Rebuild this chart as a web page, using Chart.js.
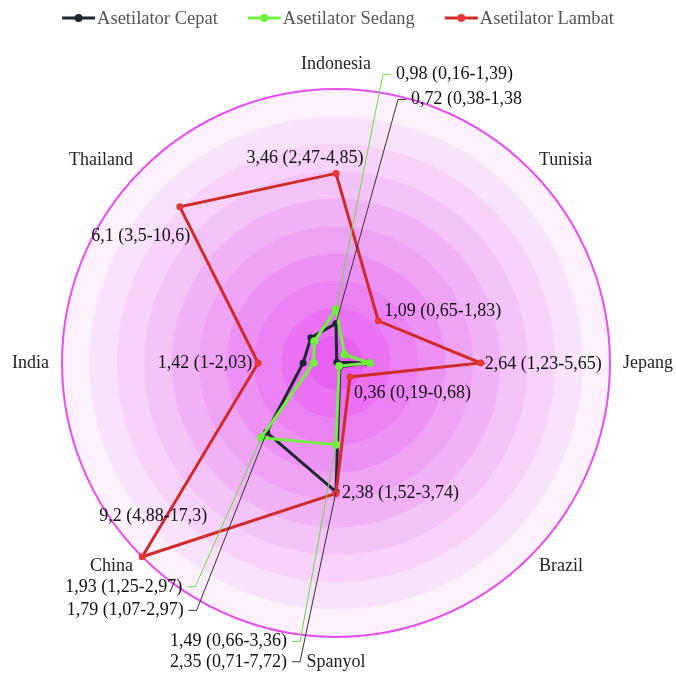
<!DOCTYPE html>
<html>
<head>
<meta charset="utf-8">
<script src="https://cdn.jsdelivr.net/npm/chart.js@4.4.0/dist/chart.umd.min.js"></script>
<style>
  html, body { margin: 0; padding: 0; background: #fff; }
  #wrap { width: 676px; height: 674px; }
</style>
</head>
<body>
<div id="wrap"><canvas id="radarChart"></canvas></div>
<script>
// Data
const countries = ["Indonesia", "Tunisia", "Jepang", "Brazil", "Spanyol", "China", "India", "Thailand"]
const seriesNames = ["Asetilator Cepat", "Asetilator Sedang", "Asetilator Lambat"]
const cepat = [0.72, 0.02, 0.58, 0.1, 2.35, 1.79, 0.6, 0.65]
const sedang = [0.98, 0.22, 0.61, 0.08, 1.49, 1.93, 0.41, 0.56]
// China and Thailand are drawn where the picture puts them (edge of the scale)
const lambat = [3.46, 1.09, 2.64, 0.36, 2.38, 5, 1.42, 4.03]
const ringValues = [0.5, 1, 1.5, 2, 2.5, 3, 3.5, 4, 4.5, 5]

// Annotation texts
const cepatNotes = ["0,72 (0,38-1,38", null, null, null, "2,35 (0,71-7,72)", "1,79 (1,07-2,97)", null, null]
const sedangNotes = ["0,98 (0,16-1,39)", null, null, null, "1,49 (0,66-3,36)", "1,93 (1,25-2,97)", null, null]
const lambatNotes = ["3,46 (2,47-4,85)", "1,09 (0,65-1,83)", "2,64 (1,23-5,65)", "0,36 (0,19-0,68)",
  "2,38 (1,52-3,74)", "9,2 (4,88-17,3)", "1,42 (1-2,03)", "6,1 (3,5-10,6)"]

// Placement of annotations (offsets from the point)
const cepatElbows = [[62, -224], null, null, null, [-36, 170], [-70, 178], null, null]
const sedangElbows = [[47, -235], null, null, null, [-36, 197], [-66, 149], null, null]
const lambatOffsets = [[-31, -15, "center"], [6, -9, "left"], [4, 1, "left"], [4, 16, "left"],
  [6, 0, "left"], [11, -40, "center"], [-6, 0, "right"], [-39, 29, "center"]]

// Styles
const colors = ["#1f2633", "#74ee44", "#cf2b2b"]
const pointColors = ["#1f2633", "#6ef03c", "#e53935"]
const leaderColors = ["#333333", "#66dd44"]
const ringColors = ["#e660f1", "#e971f2", "#eb82f3", "#ed92f4", "#efa3f5",
  "#f2b3f6", "#f4c3f7", "#f7d3f9", "#f9e2fb", "#fcf1fd"]
const font = '18px "Liberation Serif", "Times New Roman", serif'
const legendFont = '18.5px "Liberation Serif", "Times New Roman", serif'

const ctx = document.querySelector('#radarChart').getContext("2d")

const radarLayout = {
  id: "radarLayout",
  afterLayout(chart) {
    const r = chart.scales.r
    const a = chart.chartArea
    r.xCenter = (a.left + a.right) / 2
    r.yCenter = (a.top + a.bottom) / 2
    r.drawingArea = Math.min(a.right - a.left, a.bottom - a.top) / 2
  },
  beforeDatasetsDraw(chart) {
    const r = chart.scales.r
    const c = chart.ctx
    c.save()
    for (let i = ringValues.length - 1; i >= 0; i--) {
      c.beginPath()
      c.arc(r.xCenter, r.yCenter, r.getDistanceFromCenterForValue(ringValues[i]), 0, Math.PI * 2)
      c.fillStyle = ringColors[i]
      c.fill()
    }
    c.beginPath()
    c.arc(r.xCenter, r.yCenter, r.getDistanceFromCenterForValue(ringValues[ringValues.length - 1]), 0, Math.PI * 2)
    c.strokeStyle = "#e64ff0"
    c.lineWidth = 2
    c.stroke()
    c.restore()
  },
  afterDatasetsDraw(chart) {
    const r = chart.scales.r
    const c = chart.ctx
    c.save()
    c.font = font
    c.textBaseline = "middle"
    c.fillStyle = "#111"

    // leader-line notes for Cepat and Sedang
    const notes = [[cepatNotes, cepatElbows, 0], [sedangNotes, sedangElbows, 1]]
    notes.forEach(([texts, elbows, ds]) => {
      const meta = chart.getDatasetMeta(ds)
      texts.forEach((t, i) => {
        if (!t) return
        const p = meta.data[i]
        const ex = p.x + elbows[i][0]
        const ey = p.y + elbows[i][1]
        const dir = elbows[i][0] > 0 ? 1 : -1
        c.beginPath()
        c.moveTo(p.x, p.y)
        c.lineTo(ex, ey)
        c.lineTo(ex + dir * 8, ey)
        c.strokeStyle = leaderColors[ds]
        c.lineWidth = 1
        c.stroke()
        c.textAlign = dir > 0 ? "left" : "right"
        c.fillText(t, ex + dir * 13, ey)
      })
    })

    // Lambat labels
    const meta = chart.getDatasetMeta(2)
    lambatNotes.forEach((t, i) => {
      const p = meta.data[i]
      const o = lambatOffsets[i]
      c.textAlign = o[2]
      c.fillText(t, p.x + o[0], p.y + o[1])
    })

    // axis labels
    c.fillStyle = "#222"
    countries.forEach((name, i) => {
      const vertical = i === 0 || i === 4
      const pos = r.getPointPosition(i, vertical ? r.drawingArea + 25 : r.drawingArea + 13)
      if (vertical) c.textAlign = "center"
      else c.textAlign = pos.x > r.xCenter ? "left" : "right"
      c.fillText(name, pos.x, pos.y)
    })

    // legend
    c.font = legendFont
    const widths = seriesNames.map(n => c.measureText(n).width)
    const total = widths.reduce((s, w) => s + w + 35, 0) + 30 * (seriesNames.length - 1)
    let x = (chart.width - total) / 2
    const y = 18
    seriesNames.forEach((n, k) => {
      c.beginPath()
      c.moveTo(x, y)
      c.lineTo(x + 33, y)
      c.strokeStyle = colors[k]
      c.lineWidth = 3
      c.stroke()
      c.beginPath()
      c.arc(x + 16.5, y, 4, 0, Math.PI * 2)
      c.fillStyle = pointColors[k]
      c.fill()
      c.fillStyle = "#555"
      c.textAlign = "left"
      c.fillText(n, x + 35, y + 1)
      x += 35 + widths[k] + 30
    })
    c.restore()
  }
}

const radar = new Chart(ctx, {
  type: "radar",
  data: {
    labels: countries,
    datasets: [cepat, sedang, lambat].map((d, k) => ({
      label: seriesNames[k],
      data: d,
      borderColor: colors[k],
      backgroundColor: pointColors[k],
      pointBackgroundColor: pointColors[k],
      pointBorderWidth: 0,
      pointRadius: k === 1 ? 4 : 3.5,
      borderWidth: 3,
      fill: false,
      tension: 0,
      order: 3 - k,
    }))
  },
  options: {
    responsive: true,
    maintainAspectRatio: false,
    animation: false,
    layout: {
      padding: { left: 62, right: 66, top: 89, bottom: 37 }
    },
    scales: {
      r: {
        min: 0,
        max: 5,
        ticks: { display: false, stepSize: 0.5 },
        grid: { display: false },
        angleLines: { display: false },
        pointLabels: { display: false },
      }
    },
    plugins: {
      legend: { display: false },
      tooltip: { enabled: false },
    }
  },
  plugins: [radarLayout]
})
</script>
</body>
</html>
